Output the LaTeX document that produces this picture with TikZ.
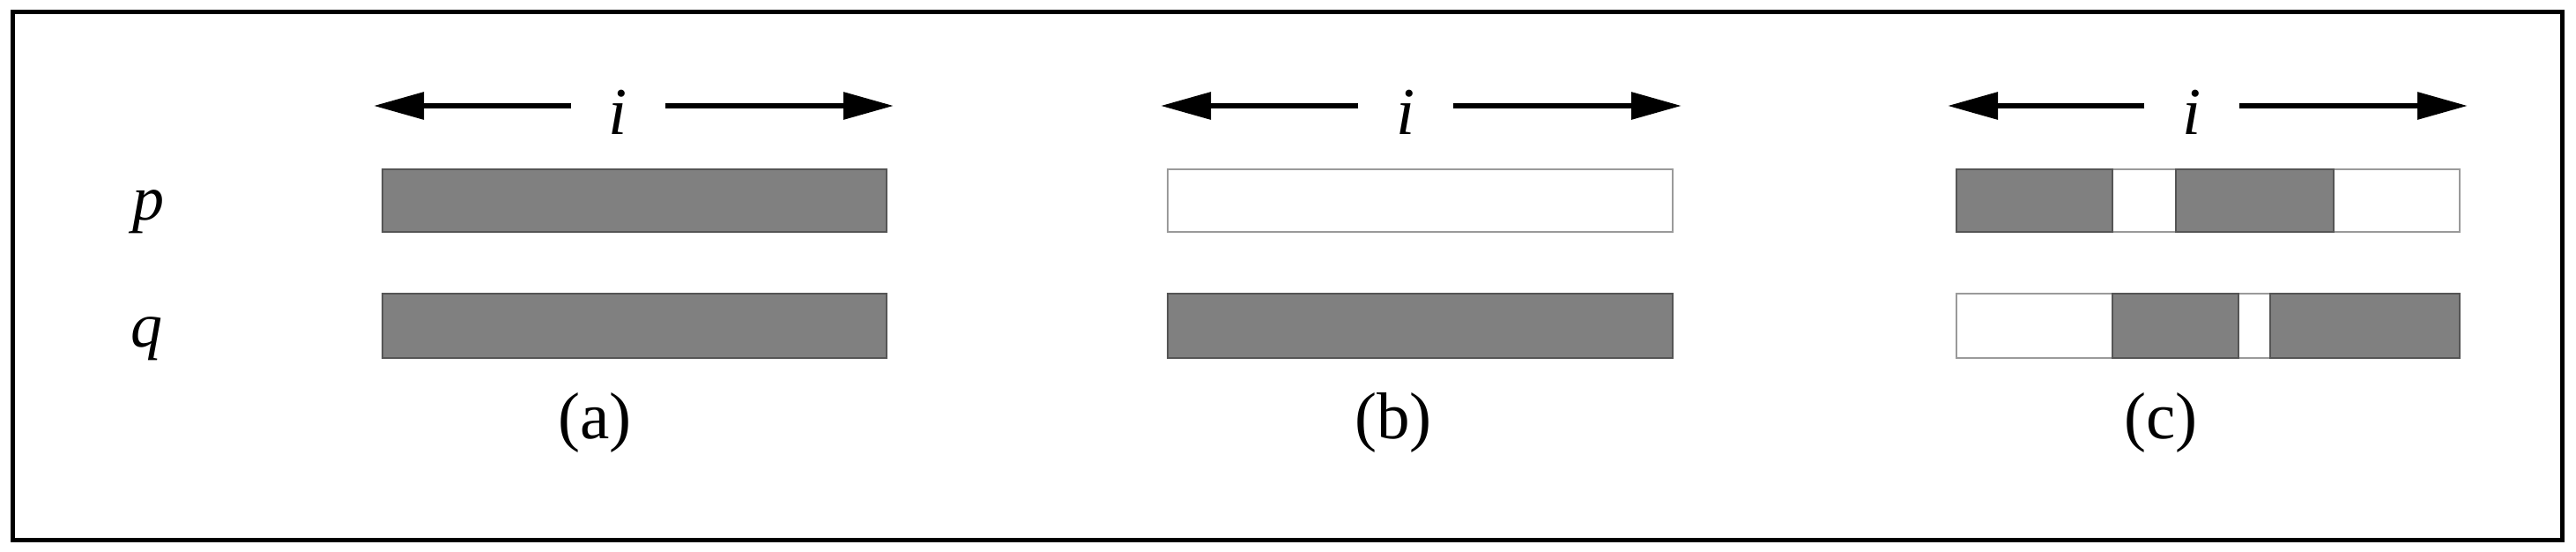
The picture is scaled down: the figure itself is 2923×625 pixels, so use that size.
\documentclass[tikz,border=0pt]{standalone}
\usepackage{fontspec}
\setmainfont{Liberation Serif}
\usetikzlibrary{arrows.meta}
\definecolor{barfill}{HTML}{808080}
\definecolor{bardraw}{HTML}{555555}
\definecolor{wdraw}{HTML}{9A9A9A}
\tikzset{
  graybar/.style={fill=barfill,draw=bardraw,line width=2pt},
  whitebar/.style={fill=white,draw=wdraw,line width=1.6pt},
  ilab/.style={font=\fontsize{76}{90}\selectfont\itshape,inner xsep=43pt,inner ysep=0pt,anchor=base},
  varlab/.style={font=\fontsize{72}{86}\selectfont\itshape,inner sep=0pt,anchor=base},
  caplab/.style={font=\fontsize{75}{90}\selectfont,inner sep=0pt,anchor=base},
  arr/.style={line width=6pt,-{Triangle[length=57pt,width=30pt]}}
}
\begin{document}
\begin{tikzpicture}[x=1pt,y=-1pt]
\useasboundingbox (0,0) rectangle (2923,625);
\draw[line width=5pt] (14,13.5) rectangle (2907.5,612.5);
% row labels
\node[varlab] (p) at (168,249) {p};
\node[varlab] (q) at (166,393) {q};
% panel (a)
\node[ilab] (ia) at (701.5,152) {i};
\coordinate (aL) at (424,120);
\coordinate (aR) at (1014,120);
\draw[arr] (ia.west |- aL) -- (aL);
\draw[arr] (ia.east |- aR) -- (aR);
\draw[graybar] (434,192) rectangle (1006,263);
\draw[graybar] (434,333) rectangle (1006,406);
\node[caplab] (capa) at (675,497) {(a)};
% panel (b)
\node[ilab] (ib) at (1595,152) {i};
\coordinate (bL) at (1317,120);
\coordinate (bR) at (1908,120);
\draw[arr] (ib.west |- bL) -- (bL);
\draw[arr] (ib.east |- bR) -- (bR);
\draw[whitebar] (1325,192) rectangle (1898,263);
\draw[graybar] (1325,333) rectangle (1898,406);
\node[caplab] (capb) at (1581,497) {(b)};
% panel (c)
\node[ilab] (ic) at (2487,152) {i};
\coordinate (cL) at (2210,120);
\coordinate (cR) at (2800,120);
\draw[arr] (ic.west |- cL) -- (cL);
\draw[arr] (ic.east |- cR) -- (cR);
\draw[whitebar] (2397,192) rectangle (2469,263);
\draw[whitebar] (2648,192) rectangle (2791,263);
\draw[graybar] (2220,192) rectangle (2397,263);
\draw[graybar] (2469,192) rectangle (2648,263);
\draw[whitebar] (2220,333) rectangle (2397,406);
\draw[whitebar] (2540,333) rectangle (2576,406);
\draw[graybar] (2397,333) rectangle (2540,406);
\draw[graybar] (2576,333) rectangle (2791,406);
\node[caplab] (capc) at (2452,497) {(c)};
\end{tikzpicture}
\end{document}
